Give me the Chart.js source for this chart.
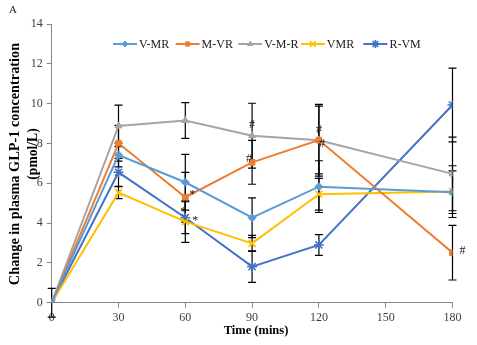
<!DOCTYPE html>
<html>
<head>
<meta charset="utf-8">
<script src="https://cdn.jsdelivr.net/npm/chart.js@4"></script>
<style>
  html, body { margin: 0; padding: 0; background: #fff; }
  #wrap { width: 477px; height: 345px; }
</style>
</head>
<body>
<div id="wrap"><canvas id="glp1"></canvas></div>
<script>
// sampling times (mins)
const times = [0, 30, 60, 90, 120, 180];
const xTicks = [0, 30, 60, 90, 120, 150, 180];
const yTicks = [0, 2, 4, 6, 8, 10, 12, 14];

// mean change in plasma GLP-1 (pmol/L)
const seriesNames = ['V-MR', 'M-VR', 'V-M-R', 'VMR', 'R-VM'];
const vMR  = [0, 7.42, 6.05, 4.27, 5.83, 5.55];
const mVR  = [0, 8.01, 5.30, 7.05, 8.17, 2.51];
const vMR3 = [0, 8.88, 9.15, 8.39, 8.16, 6.47];
const VMR  = [0, 5.53, 4.07, 2.98, 5.45, 5.58];
const rVM  = [0, 6.55, 4.27, 1.81, 2.90, 9.93];

// error (+/-)
const vMRErr  = [0, 0.60, 1.40, 1.00, 1.30, 1.07];
const mVRErr  = [0, 0.90, 1.25, 1.10, 1.70, 1.37];
const vMR3Err = [0.72, 1.04, 0.90, 1.63, 1.80, 1.85];
const VMRErr  = [0, 0.30, 1.04, 0.40, 0.80, 1.30];
const rVMErr  = [0, 0.70, 0.80, 0.79, 0.52, 1.85];

// significance marks: [series index, time index, symbol]
const sigMarks = [
  [1, 2, '*'], [3, 2, '*'], [4, 2, '*'],
  [2, 3, '#'], [1, 3, '#'],
  [2, 4, '#'], [1, 4, '#'],
  [1, 5, '#']
];

const colors = ['#5B9BD5', '#ED7D31', '#A5A5A5', '#FFC000', '#4472C4'];
const styles = ['rectRot', 'rect', 'triangle', 'crossRot', 'star'];
const radii  = [4, 4, 4, 5, 5];
const values = [vMR, mVR, vMR3, VMR, rVM];
const errors = [vMRErr, mVRErr, vMR3Err, VMRErr, rVMErr];

const SERIF = '"Liberation Serif", "Times New Roman", serif';

const datasets = seriesNames.map((name, k) => ({
  label: name,
  data: times.map((t, i) => ({ x: t, y: values[k][i] })),
  borderColor: colors[k],
  backgroundColor: colors[k],
  borderWidth: 2,
  pointStyle: styles[k],
  pointRadius: radii[k],
  pointBorderWidth: (styles[k] === 'crossRot' || styles[k] === 'star') ? 1.6 : 1,
  pointBorderColor: colors[k],
  pointBackgroundColor: colors[k],
  tension: 0,
  errors: errors[k]
}));

// offsets of * and # relative to their point
const markOffset = {
  '1,2': [7, -2], '3,2': [10, -1], '4,2': [-2, -6],
  '2,3': [0, -11], '1,3': [-3, -4],
  '2,4': [0, -10], '1,4': [3, 4],
  '1,5': [10, -2]
};

const extras = {
  id: 'extras',
  beforeDatasetsDraw(chart) {
    const { ctx } = chart;
    const ys = chart.scales.y;
    ctx.save();
    ctx.strokeStyle = '#000';
    ctx.lineWidth = 1.2;
    chart.data.datasets.forEach((ds, k) => {
      const meta = chart.getDatasetMeta(k);
      ds.errors.forEach((e, i) => {
        if (!e) return;
        const p = meta.data[i];
        const v = ds.data[i].y;
        const top = ys.getPixelForValue(v + e);
        const bot = ys.getPixelForValue(v - e);
        ctx.beginPath();
        ctx.moveTo(p.x, top); ctx.lineTo(p.x, bot);
        ctx.moveTo(p.x - 4, top); ctx.lineTo(p.x + 4, top);
        ctx.moveTo(p.x - 4, bot); ctx.lineTo(p.x + 4, bot);
        ctx.stroke();
      });
    });
    ctx.restore();
  },
  afterDraw(chart) {
    const { ctx } = chart;
    ctx.save();
    ctx.fillStyle = '#222';

    // significance marks
    ctx.font = '12px ' + SERIF;
    ctx.textAlign = 'center';
    ctx.textBaseline = 'middle';
    sigMarks.forEach(([k, i, s]) => {
      const p = chart.getDatasetMeta(k).data[i];
      const off = markOffset[k + ',' + i] || [0, 0];
      ctx.fillText(s, p.x + off[0], p.y + off[1]);
    });

    // panel letter
    ctx.font = '11px ' + SERIF;
    ctx.textAlign = 'left';
    ctx.fillText('A', 9, 10);

    // axis titles
    ctx.font = 'bold 12.5px ' + SERIF;
    ctx.fillStyle = '#000';
    ctx.textAlign = 'center';
    ctx.fillText('Time (mins)', 256, 331);
    ctx.save();
    ctx.translate(15, 164);
    ctx.rotate(-Math.PI / 2);
    ctx.font = 'bold 14.3px ' + SERIF;
    ctx.fillText('Change in plasma GLP-1 concentration', 0, 0);
    ctx.restore();
    ctx.save();
    ctx.translate(33, 154);
    ctx.rotate(-Math.PI / 2);
    ctx.font = 'bold 13.6px ' + SERIF;
    ctx.fillText('(pmol/L)', 0, 0);
    ctx.restore();

    // legend: line + marker + label, evenly spaced entries
    const y = 44;
    ctx.font = '12px ' + SERIF;
    ctx.textAlign = 'left';
    chart.data.datasets.forEach((ds, k) => {
      const x = 113 + k * 62.6;
      ctx.strokeStyle = ds.borderColor;
      ctx.fillStyle = ds.backgroundColor;
      ctx.lineWidth = 2;
      ctx.beginPath();
      ctx.moveTo(x, y); ctx.lineTo(x + 24, y);
      ctx.stroke();
      ctx.lineWidth = ds.pointBorderWidth;
      Chart.helpers.drawPoint(ctx, {
        pointStyle: ds.pointStyle, radius: ds.pointRadius - 1, rotation: 0,
        borderWidth: ds.pointBorderWidth
      }, x + 12, y);
      ctx.fillStyle = '#222';
      ctx.fillText(ds.label, x + 26, y + 0.5);
    });
    ctx.restore();
  }
};

new Chart(document.getElementById('glp1'), {
  type: 'line',
  data: { datasets },
  options: {
    responsive: true,
    maintainAspectRatio: false,
    animation: false,
    layout: { padding: { top: 24, right: 24.5, left: 0, bottom: 0 } },
    plugins: { legend: { display: false }, tooltip: { enabled: false } },
    scales: {
      x: {
        type: 'linear',
        min: 0, max: 180,
        afterBuildTicks: s => { s.ticks = xTicks.map(v => ({ value: v })); },
        afterFit: s => { s.height = 42.3; },
        grid: { drawOnChartArea: false, drawTicks: true, tickLength: 5, color: '#868686' },
        border: { color: '#868686', width: 1 },
        ticks: { color: '#404040', padding: 3, maxRotation: 0, font: { family: SERIF, size: 12 } }
      },
      y: {
        min: 0, max: 14,
        afterBuildTicks: s => { s.ticks = yTicks.map(v => ({ value: v })); },
        afterFit: s => { s.width = 51.7; },
        grid: { drawOnChartArea: false, drawTicks: true, tickLength: 5, color: '#868686' },
        border: { color: '#868686', width: 1 },
        ticks: { color: '#404040', padding: 4, font: { family: SERIF, size: 12 } }
      }
    }
  },
  plugins: [extras]
});
</script>
</body>
</html>
